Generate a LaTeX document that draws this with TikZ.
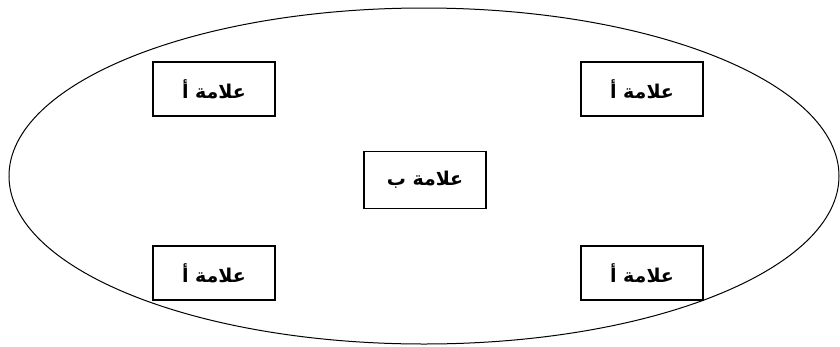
\documentclass[tikz,border=0pt]{standalone}
\usepackage{fontspec}
\newfontfamily\arabicfont[Script=Arabic]{DejaVu Sans}
\TeXXeTstate=1

\begin{document}
\begin{tikzpicture}[x=1pt,y=-1pt,
  markbox/.style={draw,line width=1.2pt,minimum width=122pt,minimum height=54pt,
    inner sep=0pt,font=\arabicfont\bfseries\fontsize{19}{22}\selectfont}]
  \useasboundingbox (0,0) rectangle (840,346);

  % Outer boundary
  \draw[line width=1pt] (424,176) ellipse [x radius=415, y radius=168];

  % Marks of kind A at the corners
  \node[markbox] (markTL) at (214,89) {\beginR علامة أ\endR};
  \node[markbox] (markTR) at (642,89) {\beginR علامة أ\endR};
  \node[markbox] (markBL) at (214,273) {\beginR علامة أ\endR};
  \node[markbox] (markBR) at (642,273) {\beginR علامة أ\endR};

  % Mark of kind B in the middle
  \node[markbox,minimum height=57pt] (markC) at (425,180) {\beginR علامة ب\endR};
\end{tikzpicture}
\end{document}
